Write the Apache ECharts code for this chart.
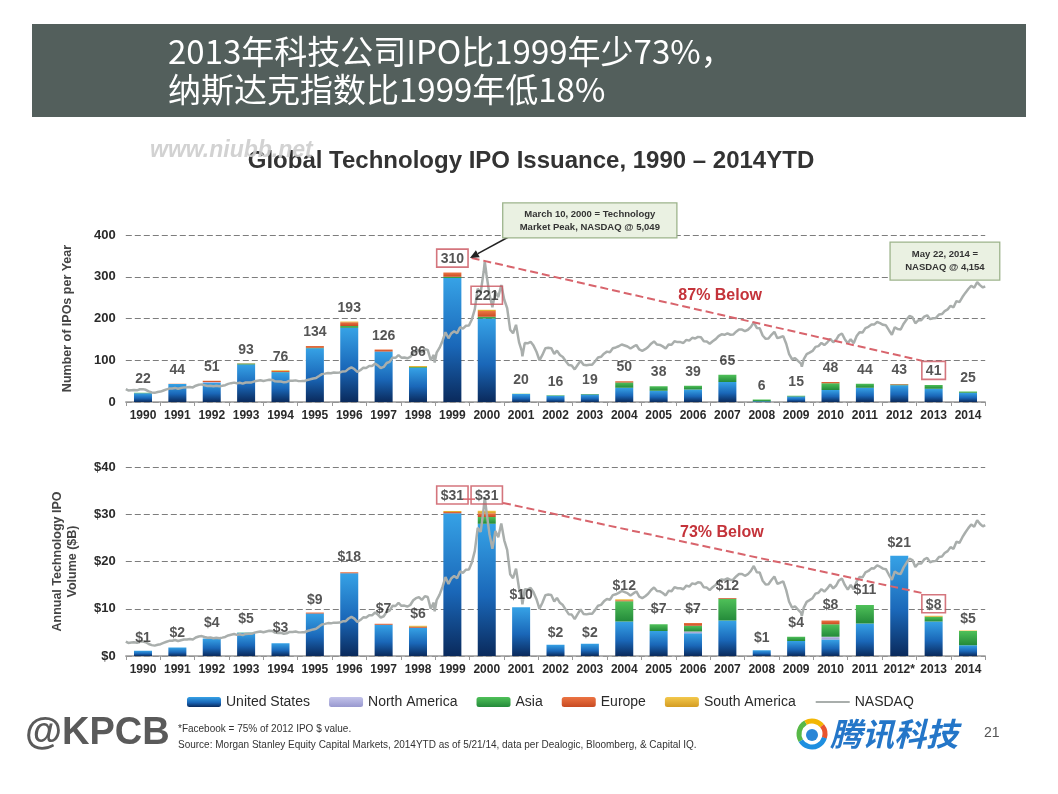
<!DOCTYPE html>
<html><head><meta charset="utf-8">
<script src="https://cdn.jsdelivr.net/npm/echarts@6/dist/echarts.min.js"></script>
<style>html,body{margin:0;padding:0;background:#fff}#c{width:1058px;height:794px}</style>
</head><body><div id="c"></div>
<script>
// ---------------- DATA ----------------
const years = ['1990','1991','1992','1993','1994','1995','1996','1997','1998','1999','2000','2001','2002','2003','2004','2005','2006','2007','2008','2009','2010','2011','2012','2013','2014'];
const volYears = ['1990','1991','1992','1993','1994','1995','1996','1997','1998','1999','2000','2001','2002','2003','2004','2005','2006','2007','2008','2009','2010','2011','2012*','2013','2014'];

// Number of tech IPOs per year, by region
const ipoUS     = [21,43,46,90,71,129,178,121,82,297,200,19,15,18,34,27,30,48,2,13,29,34,40,32,22];
const ipoNA     = [0,0,2,0,0,0,0,0,0,0,0,0,0,0,0,0,0,0,0,0,0,0,0,0,0];
const ipoAsia   = [1,0,0,2,1,1,4,0,2,3,4,1,1,1,13,11,9,17,4,2,16,10,2,9,3];
const ipoEurope = [0,1,3,1,2,4,9,5,0,10,14,0,0,0,3,0,0,0,0,0,3,0,1,0,0];
const ipoSA     = [0,0,0,0,2,0,2,0,2,0,3,0,0,0,0,0,0,0,0,0,0,0,0,0,0];
const ipoLabels = [22,44,51,93,76,134,193,126,86,310,221,20,16,19,50,38,39,65,6,15,48,44,43,41,25];
const ipoBoxed  = [9,10,23];

// Annual tech IPO volume ($B), by region
const volUS     = [1.1,1.8,3.7,4.9,2.7,9.0,17.5,6.6,6.0,30.2,28.0,10.3,2.4,2.6,7.3,5.3,4.8,7.5,1.2,3.2,3.5,6.9,21.2,7.3,2.3];
const volNA     = [0,0,0,0,0,0,0,0,0,0,0,0,0,0,0,0,0.4,0,0,0,0.6,0,0,0,0];
const volAsia   = [0,0,0,0.1,0,0,0,0,0,0,1.4,0,0,0,4.3,1.4,1.2,4.6,0,0.9,2.6,3.9,0,1.0,3.0];
const volEurope = [0,0,0,0,0,0.2,0.2,0.2,0.2,0.3,0.8,0,0,0,0.2,0,0.6,0.2,0,0,0.8,0,0,0,0];
const volSA     = [0,0,0,0,0,0,0,0,0.2,0.2,0.55,0,0,0,0.2,0,0,0,0,0,0,0,0,0.2,0.1];
const volLabels = [1,2,4,5,3,9,18,7,6,31,31,10,2,2,12,7,7,12,1,4,8,11,21,8,5];
const volBoxed  = [9,10,23];

const ipoTicks = [0,100,200,300,400];
const volTicks = [0,10,20,30,40];

// NASDAQ month-end closes, Jan 1990 .. Apr 2014 (one row per year)
const nasdaqMonthEnd = [
  416,426,435,420,459,462,438,381,345,329,359,374,
  414,453,482,485,506,475,502,525,527,542,523,586,
  620,633,603,578,585,563,581,563,583,605,652,677,
  696,671,690,661,700,704,705,742,763,779,754,777,
  800,793,743,733,735,706,722,765,764,777,750,752,
  755,793,817,844,865,933,1001,1020,1044,1036,1059,1052,
  1060,1100,1101,1191,1243,1185,1081,1141,1227,1222,1293,1291,
  1380,1309,1222,1261,1400,1442,1594,1587,1686,1593,1601,1570,
  1619,1771,1835,1869,1779,1895,1873,1499,1694,1771,1950,2193,
  2506,2288,2461,2543,2471,2686,2638,2739,2746,2966,3336,4069,
  3940,4697,4573,3861,3401,3966,3767,4206,3673,3370,2598,2471,
  2773,2152,1840,2116,2110,2161,2027,1805,1499,1690,1931,1950,
  1934,1731,1845,1688,1616,1463,1328,1315,1172,1330,1479,1336,
  1321,1338,1341,1464,1596,1623,1735,1810,1787,1932,1960,2003,
  2066,2030,1994,1920,1987,2048,1887,1838,1897,1975,2097,2175,
  2062,2052,1999,1922,2068,2057,2185,2152,2152,2120,2233,2205,
  2306,2281,2340,2323,2179,2172,2091,2184,2258,2367,2432,2415,
  2464,2416,2422,2525,2605,2603,2546,2596,2701,2859,2661,2652,
  2389,2271,2279,2413,2523,2293,2326,2368,2092,1721,1536,1577,
  1476,1378,1529,1717,1774,1835,1979,2009,2122,2045,2145,2269,
  2147,2238,2398,2461,2257,2109,2255,2114,2369,2507,2498,2653,
  2700,2782,2781,2874,2835,2774,2756,2579,2415,2684,2620,2605,
  2814,2967,3092,3046,2827,2935,2940,3067,3116,2977,3010,3020,
  3142,3160,3268,3329,3456,3403,3626,3590,3771,3920,4060,4177,
  4104,4308,4199,4115
];
// notable daily closes
const nasdaqKeyDays = [
  ['1990-01-02',459],['1998-10-08',1419],['2000-03-10',5049],['2001-04-04',1638],
  ['2002-10-09',1114],['2007-10-31',2859],['2009-03-09',1268],['2014-05-22',4154]
];

// ---------------- BUILD ----------------
const nasdaqPoints = [];
nasdaqMonthEnd.forEach((v, i) => {
  const y = 1990 + Math.floor(i / 12), m = (i % 12) + 1;
  nasdaqPoints.push([y + '-' + String(m).padStart(2, '0') + '-28', v]);
});
nasdaqKeyDays.forEach(p => nasdaqPoints.push(p));
nasdaqPoints.sort((a, b) => a[0] < b[0] ? -1 : a[0] > b[0] ? 1 : 0);

const FONT = '"Liberation Sans", Arial, Helvetica, sans-serif';
const G = echarts.graphic.LinearGradient;
const colUS = new G(0,0,0,1,[{offset:0,color:'#36a2e6'},{offset:0.55,color:'#1a67b8'},{offset:1,color:'#0a2a5c'}]);
const colNA = new G(0,0,0,1,[{offset:0,color:'#c3c3ea'},{offset:1,color:'#9898cf'}]);
const colAsia = new G(0,0,0,1,[{offset:0,color:'#4fc159'},{offset:1,color:'#248a3a'}]);
const colEU = new G(0,0,0,1,[{offset:0,color:'#ec7443'},{offset:1,color:'#c84a22'}]);
const colSA = new G(0,0,0,1,[{offset:0,color:'#f3c84c'},{offset:1,color:'#d49c22'}]);
const names = ['United States','North America','Asia','Europe','South America'];
const colors = [colUS, colNA, colAsia, colEU, colSA];

function bars(datas, xi, yi, stack) {
  return datas.map((d, k) => ({
    name: names[k], type: 'bar', stack: stack, xAxisIndex: xi, yAxisIndex: yi,
    barWidth: 18, data: d, itemStyle: { color: colors[k] }, z: 2, silent: true
  }));
}
const boxStyle = { borderColor: '#c9535c', borderWidth: 1.6, padding: [3, 4, 1, 4], distance: 5 };
function labels(vals, boxed, xi, yi, prefix) {
  return {
    type: 'scatter', xAxisIndex: xi, yAxisIndex: yi, symbolSize: 1, silent: true, z: 6,
    itemStyle: { color: 'rgba(0,0,0,0)' },
    label: { show: true, position: 'top', distance: 6, color: '#2a2a2a', fontSize: 14, fontWeight: 'bold',
      fontFamily: FONT, formatter: p => prefix + p.value },
    data: vals.map((v, i) => boxed.indexOf(i) >= 0 ? { value: v, label: boxStyle } : v)
  };
}
function nasdaqLine(xi, yi) {
  return { name: 'NASDAQ', type: 'line', xAxisIndex: xi, yAxisIndex: yi, data: nasdaqPoints,
    showSymbol: false, symbol: 'none', lineStyle: { color: '#a9aeac', width: 2.5 },
    itemStyle: { color: '#a9aeac' }, z: 4, silent: true };
}
function catAxis(data, gi) {
  return { type: 'category', gridIndex: gi, data: data, boundaryGap: true,
    axisLine: { show: true, lineStyle: { color: '#999', width: 1.5 } },
    axisTick: { show: true, length: 4, lineStyle: { color: '#999' } },
    axisLabel: { interval: 0, fontSize: 12, fontWeight: 'bold', color: '#2a2a2a', fontFamily: FONT, margin: 8 } };
}
function timeAxis(gi) {
  return { type: 'time', gridIndex: gi, show: false, min: '1990-01-02', max: '2014-05-22' };
}
function valAxis(gi, ticks, prefix, name, gap) {
  return { type: 'value', gridIndex: gi, min: ticks[0], max: ticks[ticks.length - 1], interval: ticks[1] - ticks[0],
    name: name, nameLocation: 'middle', nameRotate: 90, nameGap: gap,
    nameTextStyle: { fontSize: 12.5, fontWeight: 'bold', color: '#444', fontFamily: FONT, lineHeight: 15, align: 'center' },
    axisLine: { show: false }, axisTick: { show: false },
    axisLabel: { fontSize: 13, fontWeight: 'bold', color: '#2a2a2a', fontFamily: FONT, margin: 10,
      formatter: v => prefix + v },
    splitLine: { show: true, lineStyle: { color: '#7d7d7d', width: 1.2, type: [6, 3] } } };
}
function hiddenVal(gi) { return { type: 'value', gridIndex: gi, show: false, min: 0, max: 6000, splitLine: { show: false } }; }

const option = {
  animation: false,
  backgroundColor: '#fff',
  textStyle: { fontFamily: FONT },
  grid: [
    { left: 125.8, right: 72.8, top: 235, height: 167, outerBoundsMode: 'none', containLabel: false },
    { left: 125.8, right: 72.8, top: 467, height: 189, outerBoundsMode: 'none', containLabel: false }
  ],
  xAxis: [catAxis(years, 0), timeAxis(0), catAxis(volYears, 1), timeAxis(1)],
  yAxis: [
    valAxis(0, ipoTicks, '', 'Number of IPOs per Year', 51),
    hiddenVal(0),
    valAxis(1, volTicks, '$', 'Annual Technology IPO\nVolume ($B)', 46),
    hiddenVal(1)
  ],
  legend: {
    left: 182, top: 690, itemWidth: 34, itemHeight: 10, itemGap: 19,
    textStyle: { fontSize: 14, color: '#2a2a2a', fontFamily: FONT },
    data: ['United States','North America','Asia','Europe','South America',
      { name: 'NASDAQ', itemStyle: { opacity: 0 } }],
    selectedMode: false
  },
  series: [].concat(
    bars([ipoUS, ipoNA, ipoAsia, ipoEurope, ipoSA], 0, 0, 'ipo'),
    [labels(ipoLabels, ipoBoxed, 0, 0, ''), nasdaqLine(1, 1)],
    bars([volUS, volNA, volAsia, volEurope, volSA], 2, 2, 'vol'),
    [labels(volLabels, volBoxed, 2, 2, '$'), nasdaqLine(3, 3)]
  )
};

const chart = echarts.init(document.getElementById('c'), null, { renderer: 'canvas' });
chart.setOption(option);

// ---------------- ANNOTATIONS ----------------
const ts = d => new Date(d + 'T00:00:00').getTime();
const X = (ax, d) => chart.convertToPixel({ xAxisIndex: ax }, ts(d));
const Y = (ax, v) => chart.convertToPixel({ yAxisIndex: ax }, v);

function txt(x, y, s, font, fill, align, extra) {
  return Object.assign({ type: 'text', x: x, y: y, z: 20,
    style: { text: s, font: font, fill: fill, textAlign: align || 'left', align: align || 'left',
      textVerticalAlign: 'middle', verticalAlign: 'middle' } }, extra || {});
}
function dashLine(x1, y1, x2, y2) {
  return { type: 'line', z: 15, shape: { x1: x1, y1: y1, x2: x2, y2: y2 },
    style: { stroke: '#d8646c', lineWidth: 2, lineDash: [8, 4] } };
}
function noteBox(x1, y1, x2, y2, s) {
  return [
    { type: 'rect', z: 18, shape: { x: x1, y: y1, width: x2 - x1, height: y2 - y1 },
      style: { fill: '#eaf1e2', stroke: '#9db48c', lineWidth: 1.3 } },
    { type: 'text', z: 19, x: (x1 + x2) / 2, y: (y1 + y2) / 2,
      style: { text: s, font: 'bold 9.5px ' + FONT, fill: '#333', lineHeight: 13,
        textAlign: 'center', align: 'center', textVerticalAlign: 'middle', verticalAlign: 'middle' } }
  ];
}
function arrow(fx, fy, tx, ty) {
  const a = Math.atan2(ty - fy, tx - fx), L = 9, W = 4;
  const bx = tx - L * Math.cos(a), by = ty - L * Math.sin(a);
  return [
    { type: 'line', z: 17, shape: { x1: fx, y1: fy, x2: bx, y2: by }, style: { stroke: '#222', lineWidth: 1.5 } },
    { type: 'polygon', z: 17, shape: { points: [[tx, ty], [bx - W * Math.sin(a), by + W * Math.cos(a)], [bx + W * Math.sin(a), by - W * Math.cos(a)]] },
      style: { fill: '#222' } }
  ];
}

const g = [];
// header bar
g.push({ type: 'rect', z: 1, shape: { x: 32, y: 24, width: 994, height: 93 }, style: { fill: '#535f5c' } });
g.push(txt(168, 51, '2013年科技公司IPO比1999年少73%，', '33px "Noto Sans CJK SC", sans-serif', '#ffffff'));
g.push(txt(168, 89, '纳斯达克指数比1999年低18%', '33px "Noto Sans CJK SC", sans-serif', '#ffffff'));
// watermark + chart title
g.push(txt(150, 151, 'www.niubb.net', 'italic bold 23px ' + FONT, 'rgba(205,205,205,0.9)', 'left',
  { z: 21 }));
g.push(txt(531, 161, 'Global Technology IPO Issuance, 1990 \u2013 2014YTD', 'bold 24px ' + FONT, '#333', 'center'));

// top chart annotations
g.push.apply(g, noteBox(X(1, '2000-09-12'), Y(0, 477), X(1, '2005-08-22'), Y(0, 393),
  'March 10, 2000 = Technology\nMarket Peak, NASDAQ @ 5,049'));
g.push.apply(g, arrow(X(1, '2000-11-25'), Y(0, 397), X(1, '1999-10-08'), Y(0, 345)));
g.push.apply(g, noteBox(X(1, '2011-09-09'), Y(0, 383), X(1, '2014-10-20'), Y(0, 292),
  'May 22, 2014 =\nNASDAQ @ 4,154'));
g.push(dashLine(X(1, '1999-10-26'), Y(0, 345), X(1, '2012-08-03'), Y(0, 99)));
g.push(txt(X(1, '2006-11-13'), Y(0, 256), '87% Below', 'bold 16px ' + FONT, '#c4333a', 'center'));

// bottom chart annotations
g.push({ type: 'line', z: 15, shape: { x1: X(3, '1999-07-27'), y1: Y(2, 33.2), x2: X(3, '1999-12-01'), y2: Y(2, 33.2) },
  style: { stroke: '#d8646c', lineWidth: 1.5 } });
g.push(dashLine(X(3, '2000-09-15'), Y(2, 32.4), X(3, '2012-08-14'), Y(2, 13.3)));
g.push(txt(X(3, '2006-12-01'), Y(2, 26.2), '73% Below', 'bold 16px ' + FONT, '#c4333a', 'center'));

// footer
g.push(txt(25, 734, '@KPCB', 'bold 38px ' + FONT, '#5a5a5a'));
g.push(txt(178, 729, '*Facebook = 75% of 2012 IPO $ value.', '10px ' + FONT, '#333'));
g.push(txt(178, 745, 'Source: Morgan Stanley Equity Capital Markets, 2014YTD as of 5/21/14, data per Dealogic, Bloomberg, & Capital IQ.', '10px ' + FONT, '#333'));
// Tencent logo ring
const lc = [812, 734], lr = 13;
[['#58b947', 2.6, 4.2], ['#f2b705', 4.2, 5.6], ['#e8542e', 5.6, 6.6], ['#1e8fe0', 0.3, 2.6]].forEach(s => {
  g.push({ type: 'arc', z: 20, shape: { cx: lc[0], cy: lc[1], r: lr, startAngle: s[1], endAngle: s[2] },
    style: { stroke: s[0], lineWidth: 5, fill: null } });
});
g.push({ type: 'circle', z: 20, shape: { cx: lc[0], cy: lc[1] + 1, r: 6 }, style: { fill: '#2a86d6' } });
g.push(txt(830, 734, '腾讯科技', 'italic bold 32px "Noto Sans CJK SC", sans-serif', '#2476c8'));
g.push(txt(984, 733, '21', '14px ' + FONT, '#555'));

chart.setOption({ graphic: { elements: g } });
</script>
</body></html>
